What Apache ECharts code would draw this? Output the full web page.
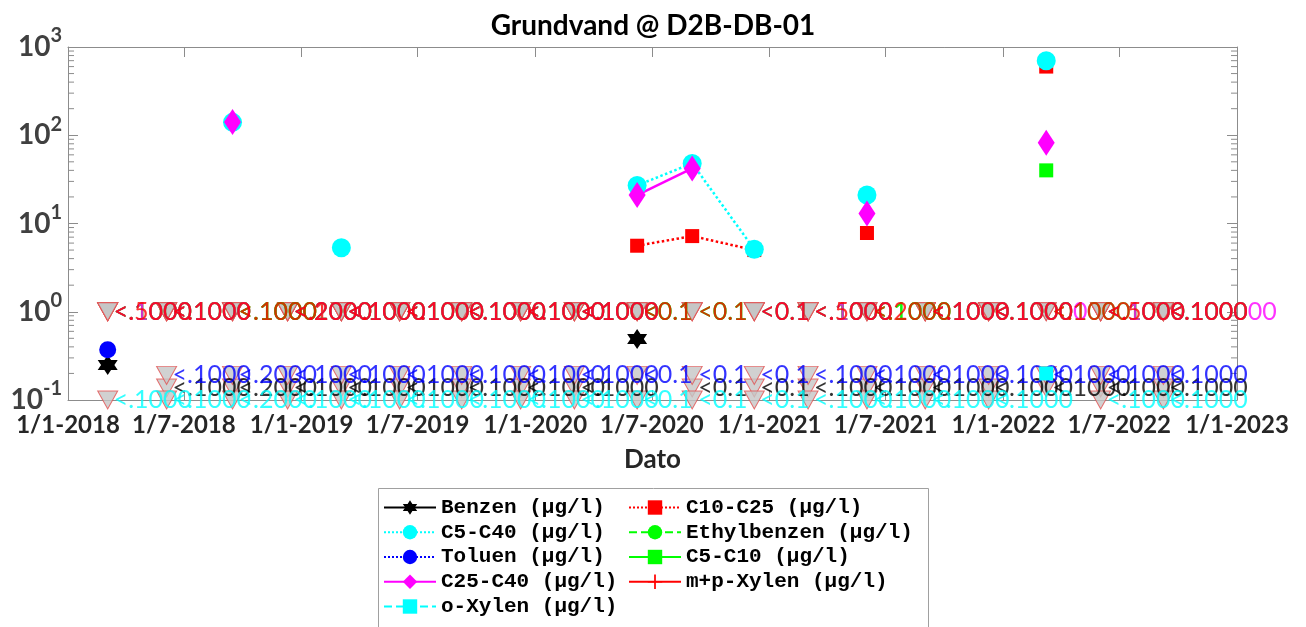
<!DOCTYPE html>
<html>
<head>
<meta charset="utf-8">
<script src="https://cdn.jsdelivr.net/npm/echarts@6/dist/echarts.min.js"></script>
<style>
  html, body { margin: 0; padding: 0; background: #ffffff; }
  #chart { width: 1306px; height: 627px; }
</style>
</head>
<body>
<div id="chart"></div>
<script>
// Sampling rounds at D2B-DB-01
const sampleDates = [
  '2018-03-04', '2018-06-04', '2018-09-15', '2018-12-10', '2019-03-04',
  '2019-06-03', '2019-09-08', '2019-12-09', '2020-03-02', '2020-06-08',
  '2020-09-02', '2020-12-08', '2021-03-02', '2021-06-02', '2021-09-01',
  '2021-12-09', '2022-03-09', '2022-06-02', '2022-09-08'
];

// Measured concentrations (µg/l); null = not detected in that round
const benzen      = [0.25, null, null, null, null, null, null, null, null, 0.49, null, null, null, null, null, null, null, null, null];
const c5c40       = [null, null, 140, null, 5.3, null, null, null, null, 27, 48, 5.1, null, 21, null, null, 700, null, null];
const toluen      = [0.37, null, null, null, null, null, null, null, null, null, null, null, null, null, null, null, null, null, null];
const c25c40      = [null, null, 141, null, null, null, null, null, null, 21, 42, null, null, 13, null, null, 82, null, null];
const oXylen      = [null, null, null, null, null, null, null, null, null, null, null, null, null, null, null, null, 0.2, null, null];
const c10c25      = [null, null, null, null, null, null, null, null, null, 5.6, 7.2, 5.0, null, 7.8, null, null, 600, null, null];
const ethylbenzen = [null, null, null, null, null, null, null, null, null, null, null, null, null, null, null, null, null, null, null];
const c5c10       = [null, null, null, null, null, null, null, null, null, null, null, null, null, null, null, null, 40, null, null];
const mpXylen     = [null, null, null, null, null, null, null, null, null, null, null, null, null, null, null, null, null, null, null];

// Below-detection-limit notes per round (null = detected / no note)
const dlBenzen  = [null, '<.1000', '<.2000', '<.1000', '<.1000', '<.1000', '<.1000', '<.1000', '<.1000', null, '<0.1', '<0.1', '<.1000', '<.1000', '<.1000', '<.1000', '<.1000', '<.1000', '<.1000'];
const dlToluen  = [null, '<.1000', '<.2000', '<.1000', '<.1000', '<.1000', '<.1000', '<.1000', '<.1000', '<0.1', '<0.1', '<0.1', '<.1000', '<.1000', '<.1000', '<.1000', '<.1000', '<.1000', '<.1000'];
const dlOXylen  = ['<.1000', '<.1000', '<.2000', '<.1000', '<.1000', '<.1000', '<.1000', '<.1000', '<.1000', '<0.1', '<0.1', '<0.1', '<.1000', '<.1000', '<.1000', '<.1000', null, '<.1000', '<.1000'];
const dlC10C25  = ['<.1000', '<.1000', '<.1000', '<.1000', '<.1000', '<.1000', '<.1000', '<.1000', '<.1000', null, null, null, '<.1000', null, '<.1000', '<.1000', null, '<.1000', '<.1000'];
const dlEthyl   = ['<.1000', '<.1000', '<.1000', '<.2000', '<.1000', '<.1000', '<.1000', '<.1000', '<.1000', '<0.1', '<0.1', '<0.1', '<.1000', '<.1000', '<.1000', '<.1000', '<.1000', '<.1000', '<.1000'];
const dlC5C10   = ['<.1000', '<.1000', '<.1000', '<.2000', '<.1000', '<.1000', '<.1000', '<.1000', '<.1000', '<0.1', '<0.1', '<0.1', '<.1000', '<.1000', '<.1000', '<.1000', null, '<.1000', '<.1000'];
const dlC25C40  = ['<.1000', '<.1000', null, '<.2000', '<.1000', '<.1000', '<.1000', '<.1000', '<.1000', null, null, '<0.1', '<.1000', null, '<.1000', '<.10000', null, '<.1000', '<.100000'];
const dlMpXylen = ['<.5000', '<.1000', '<.1000', '<.2000', '<.1000', '<.1000', '<.1000', '<.1000', '<.1000', '<0.1', '<0.1', '<0.1', '<.5000', '<.2000', '<.1000', '<.1000', '<.1000', '<.5000', '<.1000'];

// Plot levels for the "not detected" markers of each group
const dlLevelMain = 1.0;
const dlLevelToluen = 0.19;
const dlLevelBenzen = 0.137;
const dlLevelXylen = 0.1;

// Axis range and minor log ticks
const axisStartDate = '2018-01-01';
const axisEndDate = '2023-01-01';
const minorTickValues = [0.2, 0.3, 0.4, 0.5, 0.6, 0.7, 0.8, 0.9,
  2, 3, 4, 5, 6, 7, 8, 9, 20, 30, 40, 50, 60, 70, 80, 90,
  200, 300, 400, 500, 600, 700, 800, 900];

const tStart = echarts.time.parse(axisStartDate).getTime();
const tEnd = echarts.time.parse(axisEndDate).getTime();
const DAY = 24 * 3600 * 1000;

const HEXAGRAM = 'path://M0,-10 L2.887,-5 L8.66,-5 L5.774,0 L8.66,5 L2.887,5 L0,10 L-2.887,5 L-8.66,5 L-5.774,0 L-8.66,-5 L-2.887,-5 Z';
const PLUS = 'path://M-1.2,-10 L1.2,-10 L1.2,-1.2 L10,-1.2 L10,1.2 L1.2,1.2 L1.2,10 L-1.2,10 L-1.2,1.2 L-10,1.2 L-10,-1.2 L-1.2,-1.2 Z';
const DOWN_TRIANGLE = 'path://M0,0 L20,0 L10,18 Z';

const AXIS_GREY = '#8c8c8c';
const FONT = 'Lato';

function measuredSeries(name, values, color, symbol, size, lineType) {
  return {
    type: 'line',
    name: name,
    z: 5,
    data: sampleDates.map((d, i) => [d, values[i] == null ? '-' : values[i]]),
    symbol: symbol,
    symbolSize: size,
    showSymbol: true,
    showAllSymbol: true,
    connectNulls: false,
    clip: false,
    itemStyle: { color: color, borderWidth: 0 },
    lineStyle: { color: color, width: 2.5, type: lineType },
    emphasis: { disabled: true },
    silent: true
  };
}

function dlPoints(labels, level) {
  const pts = [];
  sampleDates.forEach((d, i) => { if (labels[i]) pts.push([d, level, labels[i]]); });
  return pts;
}

// grey "not detected" triangles
function dlMarkers(name, labels, level) {
  return {
    type: 'scatter',
    name: name,
    z: 2,
    data: dlPoints(labels, level),
    symbol: DOWN_TRIANGLE,
    symbolSize: [20, 18],
    clip: false,
    itemStyle: { color: '#c6c6c6', borderColor: '#e25050', borderWidth: 1 },
    emphasis: { disabled: true },
    silent: true
  };
}

// detection-limit notes written next to the triangles
function dlNotes(name, labels, level, color) {
  return {
    type: 'scatter',
    name: name,
    z: 3,
    data: dlPoints(labels, level),
    symbol: 'rect',
    symbolSize: [20, 18],
    clip: false,
    itemStyle: { color: 'transparent', borderWidth: 0 },
    label: {
      show: true,
      position: [16, 9],
      align: 'left',
      verticalAlign: 'middle',
      formatter: p => p.value[2],
      color: color,
      fontFamily: FONT,
      fontSize: 25
    },
    emphasis: { disabled: true },
    silent: true
  };
}

function dateLabel(v) {
  const d = new Date(v);
  return d.getDate() + '/' + (d.getMonth() + 1) + '-' + d.getFullYear();
}

const chart = echarts.init(document.getElementById('chart'), null, { renderer: 'canvas' });

const legendText = {
  fontFamily: 'Liberation Mono',
  fontWeight: 'bold',
  fontSize: 21,
  color: '#000000',
  lineHeight: 19
};

// not-detected groups, in drawing order (later ones on top)
const dlGroups = [
  ['Benzen', dlBenzen, dlLevelBenzen, '#000000'],
  ['C10-C25', dlC10C25, dlLevelMain, '#ff0000'],
  ['Ethylbenzen', dlEthyl, dlLevelMain, '#00ff00'],
  ['Toluen', dlToluen, dlLevelToluen, '#0000ff'],
  ['C5-C10', dlC5C10, dlLevelMain, '#00ff00'],
  ['C25-C40', dlC25C40, dlLevelMain, '#ff00ff'],
  ['m+p-Xylen', dlMpXylen, dlLevelMain, '#ff0000'],
  ['o-Xylen', dlOXylen, dlLevelXylen, '#00ffff']
];

const series = [
  // minor log ticks on both vertical edges of the plot box
  {
    type: 'custom',
    name: 'minor ticks',
    silent: true,
    clip: false,
    z: 1,
    data: minorTickValues.map(v => [tStart, v]),
    encode: { x: 0, y: 1 },
    renderItem: function (params, api) {
      const v = api.value(1);
      const l = api.coord([tStart, v]);
      const r = api.coord([tEnd, v]);
      return {
        type: 'group',
        children: [
          { type: 'line', shape: { x1: l[0], y1: l[1], x2: l[0] + 6, y2: l[1] }, style: { stroke: AXIS_GREY, lineWidth: 1 } },
          { type: 'line', shape: { x1: r[0] - 6, y1: r[1], x2: r[0], y2: r[1] }, style: { stroke: AXIS_GREY, lineWidth: 1 } }
        ]
      };
    }
  }
];
dlGroups.forEach(g => series.push(dlMarkers(g[0] + ' <DL', g[1], g[2])));
dlGroups.forEach(g => series.push(dlNotes(g[0] + ' <DL note', g[1], g[2], g[3])));
series.push(
  measuredSeries('Benzen (µg/l)', benzen, '#000000', HEXAGRAM, 20, 'solid'),
  measuredSeries('C10-C25 (µg/l)', c10c25, '#ff0000', 'rect', 14, 'dotted'),
  measuredSeries('C5-C40 (µg/l)', c5c40, '#00ffff', 'circle', 19, 'dotted'),
  measuredSeries('Ethylbenzen (µg/l)', ethylbenzen, '#00ff00', 'circle', 18, 'dashed'),
  measuredSeries('Toluen (µg/l)', toluen, '#0000ff', 'circle', 17, 'dotted'),
  measuredSeries('C5-C10 (µg/l)', c5c10, '#00ff00', 'rect', 14, 'solid'),
  measuredSeries('C25-C40 (µg/l)', c25c40, '#ff00ff', 'diamond', [17, 26], 'solid'),
  measuredSeries('m+p-Xylen (µg/l)', mpXylen, '#ff0000', PLUS, 16, 'solid'),
  measuredSeries('o-Xylen (µg/l)', oXylen, '#00ffff', 'rect', 14, 'dashed')
);

const legendCommon = {
  orient: 'vertical',
  top: 497,
  padding: 0,
  height: 130,
  itemWidth: 52,
  itemHeight: 18,
  itemGap: 3.75,
  selectedMode: false,
  textStyle: legendText
};

chart.setOption({
  animation: false,
  backgroundColor: '#ffffff',
  title: {
    text: 'Grundvand @ D2B-DB-01',
    left: 'center',
    top: 7,
    textStyle: { fontFamily: FONT, fontWeight: 'bold', fontSize: 28, color: '#000000' }
  },
  graphic: [{
    type: 'rect',
    left: 378,
    top: 488,
    z: 0,
    shape: { width: 550, height: 160 },
    style: { fill: '#ffffff', stroke: '#a0a0a0', lineWidth: 1 }
  }],
  legend: [
    Object.assign({}, legendCommon, {
      data: ['Benzen (µg/l)', 'C5-C40 (µg/l)', 'Toluen (µg/l)', 'C25-C40 (µg/l)', 'o-Xylen (µg/l)'],
      left: 383
    }),
    Object.assign({}, legendCommon, {
      data: ['C10-C25 (µg/l)', 'Ethylbenzen (µg/l)', 'C5-C10 (µg/l)', 'm+p-Xylen (µg/l)'],
      left: 628
    })
  ],
  grid: { left: 68, right: 69, top: 47, bottom: 227, containLabel: false },
  xAxis: [{
    type: 'time',
    min: tStart,
    max: tEnd,
    splitNumber: 10,
    minInterval: 180 * DAY,
    maxInterval: 185 * DAY,
    axisLine: { show: true, lineStyle: { color: AXIS_GREY, width: 1 } },
    axisTick: { show: true, inside: true, length: 10, lineStyle: { color: AXIS_GREY } },
    splitLine: { show: false },
    axisLabel: {
      formatter: dateLabel,
      color: '#262626',
      fontFamily: FONT,
      fontWeight: 'bold',
      fontSize: 24,
      margin: 13,
      showMinLabel: true,
      showMaxLabel: true
    },
    name: 'Dato',
    nameLocation: 'middle',
    nameGap: 47,
    nameTextStyle: { fontFamily: FONT, fontWeight: 'bold', fontSize: 26, color: '#262626' }
  }, {
    type: 'time',
    position: 'top',
    min: tStart,
    max: tEnd,
    splitNumber: 10,
    minInterval: 180 * DAY,
    maxInterval: 185 * DAY,
    axisLine: { show: true, lineStyle: { color: AXIS_GREY, width: 1 } },
    axisTick: { show: true, inside: true, length: 10, lineStyle: { color: AXIS_GREY } },
    splitLine: { show: false },
    axisLabel: { show: false }
  }],
  yAxis: [{
    type: 'log',
    logBase: 10,
    min: 0.1,
    max: 1000,
    axisLine: { show: true, lineStyle: { color: AXIS_GREY, width: 1 } },
    axisTick: { show: true, inside: true, length: 10, lineStyle: { color: AXIS_GREY } },
    splitLine: { show: false },
    axisLabel: {
      margin: 6,
      formatter: v => '{b|10}{s|' + Math.round(Math.log10(v)) + '}',
      rich: {
        b: { fontFamily: FONT, fontWeight: 'bold', fontSize: 28, color: '#404040', lineHeight: 42 },
        s: { fontFamily: FONT, fontWeight: 'bold', fontSize: 20, color: '#404040', lineHeight: 20, verticalAlign: 'top' }
      }
    }
  }, {
    type: 'log',
    logBase: 10,
    position: 'right',
    min: 0.1,
    max: 1000,
    axisLine: { show: true, lineStyle: { color: AXIS_GREY, width: 1 } },
    axisTick: { show: true, inside: true, length: 10, lineStyle: { color: AXIS_GREY } },
    splitLine: { show: false },
    axisLabel: { show: false }
  }],
  series: series
});
</script>
</body>
</html>
